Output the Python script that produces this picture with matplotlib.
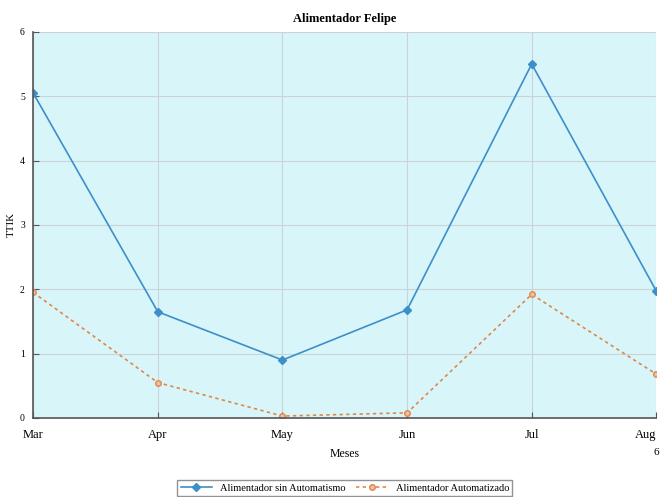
import matplotlib
matplotlib.use("Agg")
import matplotlib.pyplot as plt

months = ["Mar", "Apr", "May", "Jun", "Jul", "Aug"]
sin_auto = [5.05, 1.65, 0.90, 1.68, 5.50, 1.97]
auto = [1.95, 0.55, 0.03, 0.08, 1.92, 0.68]
yticks = [0, 1, 2, 3, 4, 5, 6]

plt.rcParams['font.family'] = ['Liberation Serif', 'DejaVu Serif']

fig = plt.figure(figsize=(6.63, 4.97), dpi=100)
ax = fig.add_axes([0.050, 0.159, 0.940, 0.777])
ax.set_facecolor('#d8f5fa')

x = list(range(len(months)))
ax.plot(x, sin_auto, color='#3d8fc9', lw=1.2, marker='D', ms=4,
        label='Alimentador sin Automatismo')
ax.plot(x, auto, color='#e0874a', lw=1.2, ls=(0, (2, 2)), marker='o', ms=4,
        mfc='#f2c0a0', label='Alimentador Automatizado')

ax.set_xlim(0, 5)
ax.set_ylim(0, 6)
ax.set_xticks(x)
ax.set_xticklabels(months, fontsize=9)
labs = ax.get_xticklabels()
labs[-1].set_horizontalalignment('right')
labs[0].set_horizontalalignment('center')
ax.set_yticks(yticks)
ax.set_yticklabels([str(v) for v in yticks], fontsize=7)
ax.grid(True, color='#c8d4d8', lw=0.8)
ax.set_axisbelow(True)
for s in ['top', 'right']:
    ax.spines[s].set_visible(False)
for s in ['left', 'bottom']:
    ax.spines[s].set_color('#555555')
    ax.spines[s].set_linewidth(1.2)
ax.tick_params(axis='x', direction='in', length=4, color='#555555', pad=8)
ax.tick_params(axis='y', direction='in', length=4, color='#555555', pad=6)

ax.set_title('Alimentador Felipe', fontsize=9, fontweight='bold', pad=7)
ax.set_xlabel('Meses', fontsize=8.5, labelpad=5)
ax.set_ylabel('TTIK', fontsize=8, labelpad=3)
ax.text(1.0, -0.09, '6', transform=ax.transAxes, fontsize=8, ha='center', va='center')

ax.legend(loc='upper center', bbox_to_anchor=(0.5, -0.148), ncol=2, fontsize=7.5,
          frameon=True, fancybox=False, edgecolor='#777777', handlelength=3,
          columnspacing=1.0, borderpad=0.3)

fig.savefig('out.png', dpi=100)
